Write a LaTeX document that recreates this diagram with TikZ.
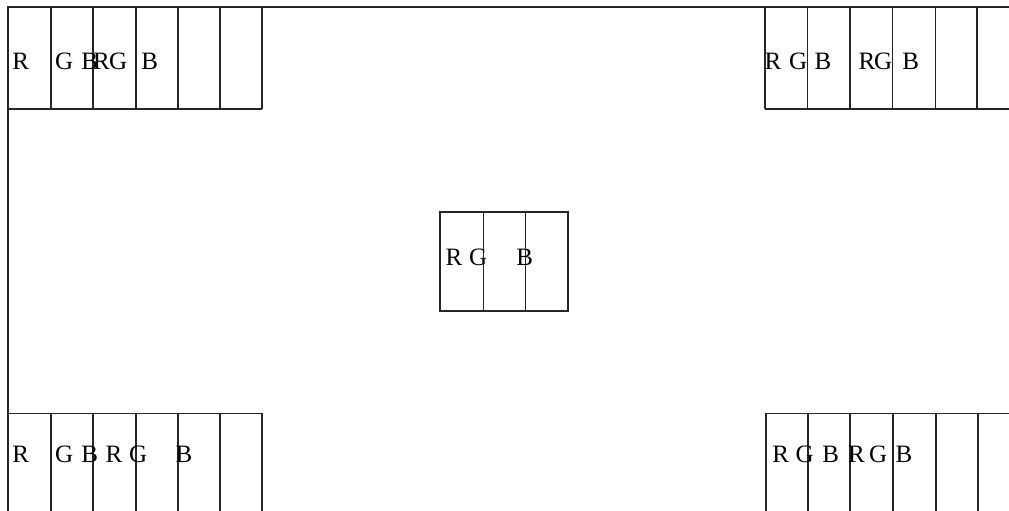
\documentclass[tikz,border=0pt]{standalone}
\usepackage{fontspec}
\setmainfont{Liberation Serif}
\begin{document}
\begin{tikzpicture}[x=1pt,y=-1pt,
  ln/.style={line width=1.6pt,draw=black!85},
  lbl/.style={anchor=base west,inner sep=0pt,outer sep=0pt,font=\fontsize{25}{29}\selectfont}]
\useasboundingbox (0,0) rectangle (1009,511);
% outer frame lines
\draw[ln] (1009,7.3) -- (8,7.3) -- (8,511);
% top-left block
\draw[ln] (8,109) -- (262,109);
\foreach \x in {51,93,136,178,220,262} \draw[ln] (\x,7.3) -- (\x,109);
% top-right block
\draw[ln] (765,109) -- (1009,109);
\foreach \x in {765,807.5,850,892.5,935.3,977} \draw[ln] (\x,7.3) -- (\x,109);
% bottom-left block
\draw[ln] (8,413.3) -- (262,413.3);
\foreach \x in {51,93,136,178,220,262} \draw[ln] (\x,413.3) -- (\x,511);
% bottom-right block
\draw[ln] (765.7,413.3) -- (1009,413.3);
\foreach \x in {765.7,807.7,850,892.7,935.7,977.7} \draw[ln] (\x,413.3) -- (\x,511);
% centre block
\draw[ln] (440,211.7) rectangle (567.7,311);
\draw[ln] (483.3,211.7) -- (483.3,311);
\draw[ln] (525.3,211.7) -- (525.3,311);
% labels top-left
\node[lbl] (tlR1) at (12.3,69.5) {R};
\node[lbl] (tlG1) at (55,69.5) {G};
\node[lbl] (tlB1) at (81.3,69.5) {B};
\node[lbl] (tlR2) at (93,69.5) {R};
\node[lbl] (tlG2) at (109,69.5) {G};
\node[lbl] (tlB2) at (141.3,69.5) {B};
% labels top-right
\node[lbl] (trR1) at (764.6,69.5) {R};
\node[lbl] (trG1) at (789,69.5) {G};
\node[lbl] (trB1) at (814.6,69.5) {B};
\node[lbl] (trR2) at (858.6,69.5) {R};
\node[lbl] (trG2) at (874,69.5) {G};
\node[lbl] (trB2) at (902.3,69.5) {B};
% labels bottom-left
\node[lbl] (blR1) at (12.3,462) {R};
\node[lbl] (blG1) at (55,462) {G};
\node[lbl] (blB1) at (81.3,462) {B};
\node[lbl] (blR2) at (105.6,462) {R};
\node[lbl] (blG2) at (129,462) {G};
\node[lbl] (blB2) at (175.6,462) {B};
% labels bottom-right
\node[lbl] (brR1) at (772.3,462) {R};
\node[lbl] (brG1) at (795.7,462) {G};
\node[lbl] (brB1) at (822.3,462) {B};
\node[lbl] (brR2) at (848,462) {R};
\node[lbl] (brG2) at (869,462) {G};
\node[lbl] (brB2) at (895.6,462) {B};
% labels centre
\node[lbl] (cR) at (445.6,265.5) {R};
\node[lbl] (cG) at (469,265.5) {G};
\node[lbl] (cB) at (516.3,265.5) {B};
\end{tikzpicture}
\end{document}
